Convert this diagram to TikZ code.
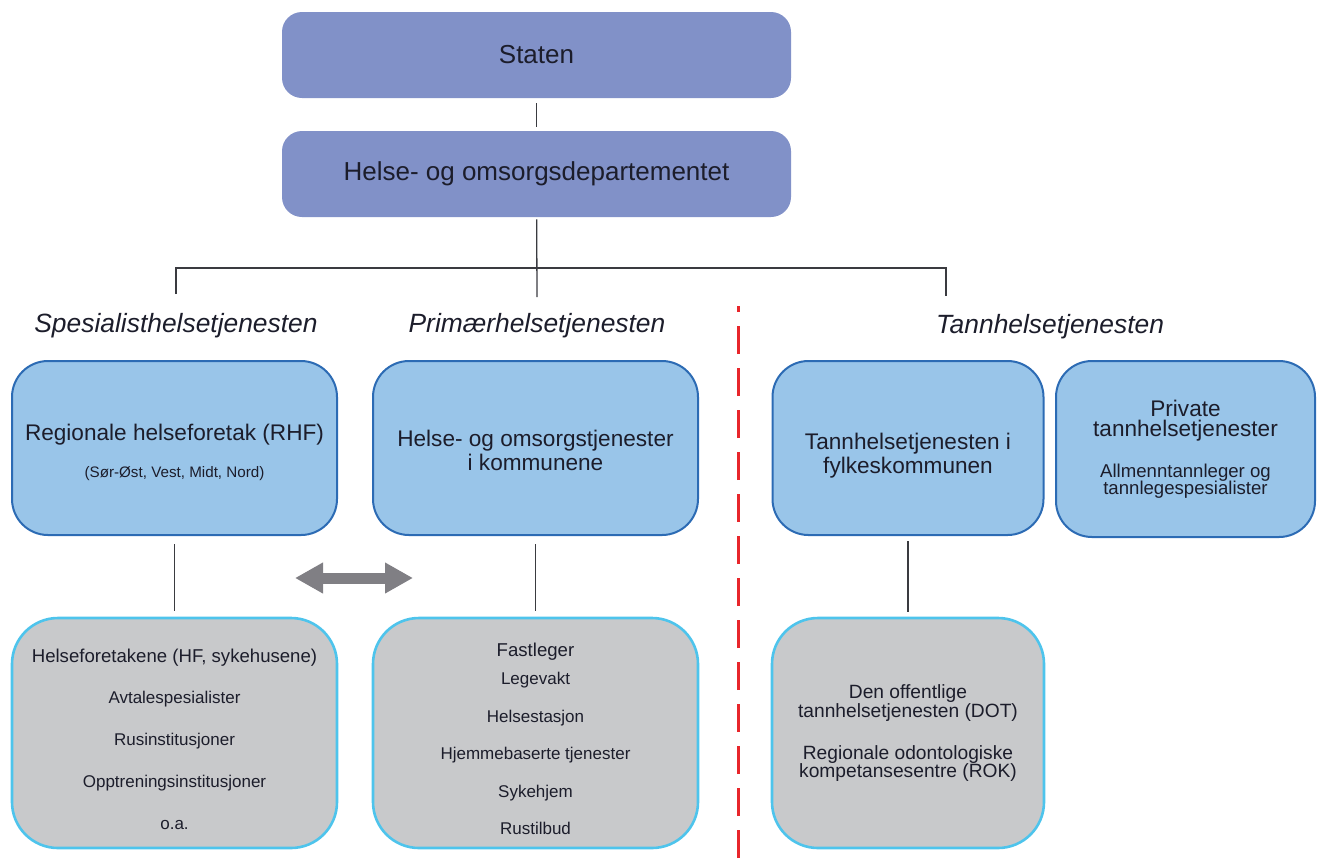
\documentclass[tikz,border=0pt]{standalone}
\usepackage{fontspec}
\setmainfont{Liberation Sans}
\usepackage{tikz}
\usetikzlibrary{arrows.meta,positioning}
\definecolor{Ink}{HTML}{1C1D2B}
\definecolor{Rule}{HTML}{3A3B40}
\definecolor{Lav}{HTML}{8191C8}
\definecolor{Sky}{HTML}{99C5E9}
\definecolor{SkyEdge}{HTML}{2C6BB4}
\definecolor{Stone}{HTML}{C8C9CB}
\definecolor{StoneEdge}{HTML}{4EC4EC}
\definecolor{Slate}{HTML}{807F84}
\definecolor{Cut}{HTML}{E8262B}
\newcommand{\titlesize}{\fontsize{11.3}{12}\selectfont}
\newcommand{\notesize}{\fontsize{7.6}{9}\selectfont}
\newcommand{\leadsize}{\fontsize{9.3}{10}\selectfont}
\newcommand{\itemsize}{\fontsize{8.5}{10}\selectfont}
\newcommand{\toppad}[1]{\rule{0pt}{#1}}
\tikzset{
  govbox/.style={rounded corners=10pt,fill=Lav,minimum width=254.5pt,minimum height=43pt,font=\fontsize{13}{15}\selectfont,text=Ink},
  bluebox/.style={rounded corners=18pt,draw=SkyEdge,fill=Sky,line width=1pt,minimum height=87pt,align=center,text=Ink,font=\titlesize},
  greybox/.style={rounded corners=23pt,draw=StoneEdge,fill=Stone,line width=1.3pt,minimum height=115pt,align=center,text=Ink,font=\itemsize},
  sector/.style={font=\fontsize{13.2}{15}\selectfont\itshape,text=Ink},
  link/.style={draw=Rule,line width=0.65pt},
  twoway/.style={{Triangle[width=14.5pt,length=14pt]}-{Triangle[width=14.5pt,length=14pt]},draw=Slate,line width=5.5pt},
  cut/.style={draw=Cut,line width=1.5pt,dash pattern=on 14pt off 7pt}
}
\begin{document}
\begin{tikzpicture}[x=0.5pt,y=-0.5pt]
  \useasboundingbox (0,0) rectangle (1317,858);
  \node[govbox] (stat) at (536.5,55) {Staten};
  \node[govbox] (hod) at (536.5,174) {Helse- og omsorgsdepartementet};
  \node[sector] (hspes) at (176,326) {Spesialisthelsetjenesten};
  \node[sector] (hprim) at (537,326) {Primærhelsetjenesten};
  \node[sector] (htann) at (1050,327) {Tannhelsetjenesten};
  \node[bluebox,minimum width=162.5pt] (rhf) at (174.5,448)
    {\toppad{12.8pt}Regionale helseforetak (RHF)\\[6.5pt]{\notesize (Sør-Øst, Vest, Midt, Nord)}};
  \node[bluebox,minimum width=162.5pt] (kom) at (535.5,448)
    {\toppad{10.3pt}Helse- og omsorgstjenester\\i kommunene};
  \node[bluebox,minimum width=135.5pt] (tfk) at (908,448)
    {\toppad{15.8pt}Tannhelsetjenesten i\\fylkeskommunen};
  \node[bluebox,minimum width=129.5pt,minimum height=88pt] (priv) at (1185.5,449)
    {Private\\[-2pt]tannhelsetjenester\\[8.5pt]{\leadsize Allmenntannleger og}\\[-3.5pt]{\leadsize tannlegespesialister}};
  \node[greybox,minimum width=162.5pt] (hf) at (174.5,733)
    {\toppad{12.8pt}{\leadsize Helseforetakene (HF, sykehusene)}\\[10.5pt]Avtalespesialister\\[11pt]Rusinstitusjoner\\[11pt]Opptreningsinstitusjoner\\[11pt]o.a.};
  \node[greybox,minimum width=162.5pt] (kgrey) at (535.5,733)
    {\toppad{12.8pt}{\leadsize Fastleger}\\[4pt]Legevakt\\[8.75pt]Helsestasjon\\[8.75pt]Hjemmebaserte tjenester\\[8.75pt]Sykehjem\\[8.75pt]Rustilbud};
  \node[greybox,minimum width=136pt,font=\fontsize{9.6}{10}\selectfont] (dot) at (908,733)
    {Den offentlige\\[-0.5pt]tannhelsetjenesten (DOT)\\[11pt]Regionale odontologiske\\[-1pt]kompetansesentre (ROK)};
  \coordinate (fork) at (537,297);
  \coordinate (bar) at (537,268);
  \coordinate (legS) at (176,294);
  \coordinate (legT) at (946,296);
  \draw[link,shorten <=2.5pt,shorten >=2pt] (stat) -- (hod);
  \draw[link,shorten <=1pt] (hod) -- (fork);
  \draw[link] (legS) |- (bar) -| (legT);
  \draw[link,shorten <=4pt,shorten >=3pt] (rhf) -- (hf);
  \draw[link,shorten <=4pt,shorten >=3pt] (kom) -- (kgrey);
  \draw[link,shorten <=2.5pt,shorten >=2.5pt] (tfk) -- (dot);
  \coordinate (arrL) at (295,578);
  \coordinate (arrR) at (413,578);
  \draw[twoway] (arrL) -- (arrR);
  \draw[cut] (738,858) -- (738,306);
\end{tikzpicture}
\end{document}
